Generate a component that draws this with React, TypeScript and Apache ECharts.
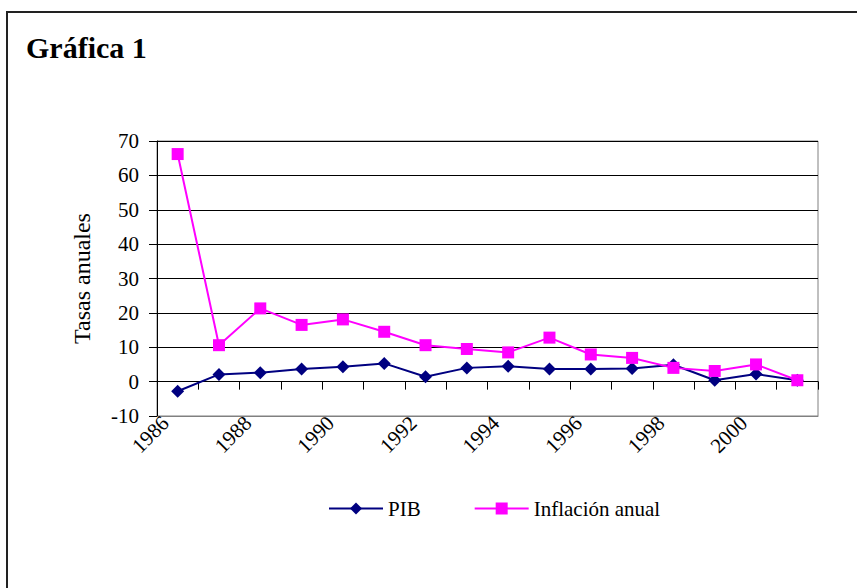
import React, { useEffect, useRef } from "react";
import * as echarts from "echarts";

const years = ["1986","1987","1988","1989","1990","1991","1992","1993","1994","1995","1996","1997","1998","1999","2000","2001"];
const pib = [-2.8, 2.1, 2.6, 3.7, 4.3, 5.3, 1.4, 4.0, 4.5, 3.7, 3.7, 3.8, 4.9, 0.4, 2.2, 0.4];
const inflacion = [66.2, 10.6, 21.3, 16.5, 18.1, 14.5, 10.6, 9.5, 8.5, 12.8, 7.9, 6.9, 4.0, 3.1, 5.0, 0.4];
const titleText = "Gráfica 1";
const yName = "Tasas anuales";
const seriesNames = ["PIB", "Inflación anual"];

const FONT = "Liberation Serif";
const serif = { fontFamily: FONT, fontSize: 21, color: "#000" };

export default function App() {
  const ref = useRef<HTMLDivElement>(null);
  useEffect(() => {
    const chart = echarts.init(ref.current!, undefined, { renderer: "svg" });
    chart.setOption({
      animation: false,
      backgroundColor: "#ffffff",
      textStyle: { fontFamily: FONT, color: "#000" },
      title: {
        text: titleText,
        left: 26,
        top: 32,
        padding: 0,
        textStyle: { fontFamily: FONT, fontWeight: "bold", fontSize: 30, color: "#000" },
      },
      graphic: [
        {
          type: "rect",
          shape: { x: 7, y: 12, width: 900, height: 700 },
          style: { fill: "none", stroke: "#222", lineWidth: 2 },
          silent: true,
          z: -1,
        },
      ],
      legend: {
        left: 328,
        top: 498,
        padding: 0,
        itemWidth: 54,
        itemHeight: 15,
        itemGap: 53,
        textStyle: { ...serif },
        data: seriesNames,
      },
      grid: {
        left: 157,
        right: 39,
        top: 141,
        bottom: 172,
        show: true,
        borderColor: "#808080",
        borderWidth: 1,
        backgroundColor: "transparent",
      },
      xAxis: [
        {
          type: "category",
          data: years,
          position: "bottom",
          boundaryGap: true,
          axisLine: { show: true, onZero: false, lineStyle: { color: "#808080", width: 1 } },
          axisTick: { show: false },
          axisLabel: {
            interval: 1,
            rotate: 45,
            margin: 6,
            ...serif,
            verticalAlign: "bottom",
            padding: [0, 7, 0, 0],
          },
          splitLine: { show: false },
        },
        {
          type: "category",
          data: years,
          position: "bottom",
          boundaryGap: true,
          axisLine: { show: true, onZero: true, lineStyle: { color: "#000", width: 1 } },
          axisTick: { show: true, interval: 0, length: 8, lineStyle: { color: "#000" } },
          axisLabel: { show: false },
          splitLine: { show: false },
        },
      ],
      yAxis: {
        type: "value",
        min: -10,
        max: 70,
        interval: 10,
        name: yName,
        nameLocation: "middle",
        nameGap: 63,
        nameTextStyle: { ...serif, fontSize: 24 },
        axisLine: { show: true, onZero: false, lineStyle: { color: "#000", width: 1 } },
        axisTick: { show: true, length: 8, lineStyle: { color: "#000" } },
        axisLabel: { margin: 18, ...serif },
        splitLine: { show: true, lineStyle: { color: "#000", width: 1 } },
      },
      series: [
        {
          name: seriesNames[0],
          type: "line",
          xAxisIndex: 0,
          data: pib,
          symbol: "diamond",
          symbolSize: 13,
          lineStyle: { color: "#000080", width: 2 },
          itemStyle: { color: "#000080" },
          z: 3,
        },
        {
          name: seriesNames[1],
          type: "line",
          xAxisIndex: 0,
          data: inflacion,
          symbol: "rect",
          symbolSize: 12,
          lineStyle: { color: "#ff00ff", width: 2 },
          itemStyle: { color: "#ff00ff" },
          z: 4,
        },
      ],
    });
    return () => chart.dispose();
  }, []);
  return (
    <div
      ref={ref}
      style={{ position: "fixed", left: 0, top: 0, width: 857, height: 588 }}
    />
  );
}
